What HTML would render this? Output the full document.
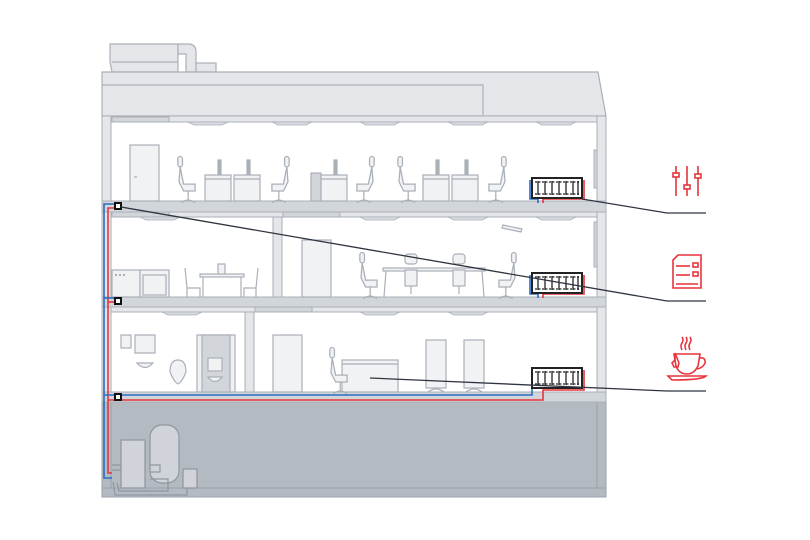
<!DOCTYPE html>
<html><head><meta charset="utf-8"><style>html,body{margin:0;padding:0;background:#fff}svg{display:block}</style></head>
<body>
<svg width="810" height="540" viewBox="0 0 810 540" xmlns="http://www.w3.org/2000/svg">
<defs>
<g id="chair0" fill="#f1f2f4" stroke="#aab0b8" stroke-width="1.1">
<rect x="-1" y="-30" width="4" height="9" rx="2"/>
<path d="M1 -21 L0 -8 L4 0 L14 0 L14 -6 L4 -6 Z"/>
<line x1="8" y1="0" x2="8" y2="8"/><path d="M2 10 Q8 6 14 10" fill="none"/>
</g>
<g id="chair"><use href="#chair0" transform="scale(1.15)"/></g>
<g id="desk" fill="#f1f2f4" stroke="#aab0b8" stroke-width="1.2">
<rect x="0" y="-25" width="26" height="26"/><line x1="0" y1="-21" x2="26" y2="-21"/>
<rect x="13" y="-40" width="3" height="14" fill="#aab0b8"/>
</g>
<g id="rad">
<rect x="0" y="0" width="50" height="20" fill="#fff" stroke="#222" stroke-width="2"/>
<g stroke="#222" stroke-width="1.3">
<line x1="6" y1="3" x2="6" y2="17"/><line x1="13" y1="3" x2="13" y2="17"/><line x1="20" y1="3" x2="20" y2="17"/><line x1="27" y1="3" x2="27" y2="17"/><line x1="34" y1="3" x2="34" y2="17"/><line x1="41" y1="3" x2="41" y2="17"/><line x1="46" y1="3" x2="46" y2="17"/>
<line x1="3" y1="4" x2="47" y2="4" stroke-dasharray="2 1.5"/><line x1="3" y1="16" x2="47" y2="16" stroke-dasharray="2 1.5"/>
</g></g>
<g id="lamp"><path d="M0 0 L40 0 L34 3 L6 3 Z" fill="#d8dbdf" stroke="#aab0b8" stroke-width="0.8"/></g>
</defs>

<g fill="#e4e6ea" stroke="#aab0b8" stroke-width="1.2">
<path d="M110 44 L178 44 L178 72 L112 72 L110 62 Z"/>
<line x1="112" y1="62" x2="178" y2="62"/>
<path d="M178 44 L188 44 Q196 44 196 52 L196 72 L186 72 L186 54 L178 54 Z"/>
<rect x="196" y="63" width="20" height="9"/>
</g>
<path d="M102 72 L598 72 L606 116 L102 116 Z" fill="#e4e6ea" stroke="#aab0b8" stroke-width="1.2"/>
<path d="M102 85 L483 85 L483 116" fill="none" stroke="#aab0b8" stroke-width="1.2"/>

<rect x="102" y="116" width="504" height="286" fill="#fff"/>
<rect x="102" y="402" width="504" height="95" fill="#b4bac1" stroke="#9aa1a9" stroke-width="1"/>
<rect x="102" y="488" width="504" height="9" fill="#b4bac1" stroke="#9aa1a9"/>
<line x1="111" y1="402" x2="111" y2="488" stroke="#9aa1a9"/><line x1="597" y1="402" x2="597" y2="488" stroke="#9aa1a9"/>

<g fill="#e4e6ea" stroke="#aab0b8" stroke-width="1">
<rect x="102" y="116" width="9" height="286"/>
<rect x="597" y="116" width="9" height="286"/>
<rect x="111" y="116" width="486" height="6"/>
<rect x="111" y="212" width="486" height="5"/>
<rect x="111" y="307" width="486" height="5"/>
<rect x="273" y="217" width="9" height="80"/>
<rect x="245" y="312" width="9" height="80"/>
</g>
<g fill="#d2d6db" stroke="#aab0b8" stroke-width="1">
<rect x="102" y="201" width="504" height="11"/>
<rect x="102" y="297" width="504" height="10"/>
<rect x="102" y="392" width="504" height="10"/>
<rect x="112" y="117" width="57" height="5"/><rect x="112" y="212" width="57" height="5"/><rect x="283" y="212" width="57" height="5"/><rect x="255" y="307" width="57" height="5"/>
<rect x="594" y="150" width="3" height="38"/><rect x="594" y="222" width="3" height="45"/>
</g>
<g><use href="#lamp" x="188" y="122"/><use href="#lamp" x="272" y="122"/><use href="#lamp" x="360" y="122"/><use href="#lamp" x="448" y="122"/><use href="#lamp" x="536" y="122"/>
<use href="#lamp" x="140" y="217"/><use href="#lamp" x="360" y="217"/><use href="#lamp" x="448" y="217"/><use href="#lamp" x="536" y="217"/>
<use href="#lamp" x="162" y="312"/><use href="#lamp" x="360" y="312"/><use href="#lamp" x="448" y="312"/></g>

<g fill="#f1f2f4" stroke="#aab0b8" stroke-width="1.2">
<rect x="130" y="145" width="29" height="56"/><line x1="134" y1="177" x2="137" y2="177"/>
<rect x="311" y="173" width="10" height="28" fill="#d2d6db"/>
</g>
<use href="#chair" x="179" y="191"/><use href="#desk" x="205" y="200"/><use href="#desk" x="234" y="200"/>
<g transform="translate(288,191) scale(-1,1)"><use href="#chair"/></g>
<use href="#desk" x="321" y="200"/>
<g transform="translate(373,191) scale(-1,1)"><use href="#chair"/></g>
<use href="#chair" x="399" y="191"/><use href="#desk" x="423" y="200"/><use href="#desk" x="452" y="200"/>
<g transform="translate(505,191) scale(-1,1)"><use href="#chair"/></g>

<g fill="#f1f2f4" stroke="#aab0b8" stroke-width="1.2">
<rect x="112" y="270" width="28" height="27"/><rect x="140" y="270" width="29" height="27"/><rect x="143" y="275" width="23" height="20"/>
<g fill="#aab0b8" stroke="none"><rect x="115" y="274" width="2" height="2"/><rect x="119" y="274" width="2" height="2"/><rect x="123" y="274" width="2" height="2"/></g>
<rect x="200" y="274" width="44" height="3"/><line x1="203" y1="277" x2="203" y2="297"/><line x1="241" y1="277" x2="241" y2="297"/>
<rect x="218" y="264" width="7" height="10"/>
<path d="M185 268 L187 288 L200 288 L200 297 M187 288 L187 297" fill="none"/>
<path d="M258 268 L256 288 L244 288 L244 297 M256 288 L256 297" fill="none"/>
<rect x="302" y="240" width="29" height="57"/>
<rect x="383" y="268" width="102" height="3"/><line x1="386" y1="271" x2="384" y2="297"/><line x1="482" y1="271" x2="484" y2="297"/>
<rect x="405" y="254" width="12" height="10" rx="3"/><rect x="453" y="254" width="12" height="10" rx="3"/>
<path d="M503 225 L522 229 L521 232 L502 228 Z"/>
</g>
<use href="#chair" x="361" y="287"/><g transform="translate(515,287) scale(-1,1)"><use href="#chair"/></g>
<g fill="#f1f2f4" stroke="#aab0b8" stroke-width="1.2"><rect x="405" y="270" width="12" height="16"/><rect x="453" y="270" width="12" height="16"/><line x1="411" y1="286" x2="411" y2="294"/><line x1="459" y1="286" x2="459" y2="294"/></g>

<g fill="#f1f2f4" stroke="#aab0b8" stroke-width="1.2">
<rect x="121" y="335" width="10" height="13"/><rect x="135" y="335" width="20" height="18"/>
<path d="M137 363 Q145 372 153 363 Z"/>
<path d="M170 372 Q170 360 178 360 Q186 360 186 372 Q182 382 178 384 Q174 382 170 372 Z"/>
<rect x="197" y="335" width="38" height="57"/><rect x="202" y="335" width="28" height="57" fill="#d2d6db"/>
<rect x="208" y="358" width="14" height="13" fill="#f1f2f4"/><path d="M208 377 Q215 386 222 377 Z"/>
<rect x="273" y="335" width="29" height="57"/>
<rect x="342" y="360" width="56" height="32"/><line x1="342" y1="364" x2="398" y2="364"/>
<rect x="426" y="340" width="20" height="48"/><rect x="464" y="340" width="20" height="48"/>
<path d="M428 392 Q436 386 444 392 M466 392 Q474 386 482 392" fill="none"/>
</g>
<use href="#chair" x="331" y="382"/>

<g fill="#d0d4da" stroke="#8f969e" stroke-width="1.2">
<rect x="121" y="440" width="24" height="48"/>
<rect x="150" y="425" width="29" height="58" rx="12"/>
<rect x="183" y="469" width="14" height="19"/>
<path d="M112 465 L121 465 M112 470 L121 470 M150 465 L160 465 L160 472 L150 472" fill="none"/>
<path d="M113 482 L115 495 L187 495 L187 488 M117 483 L119 491 L168 491 L168 479 L150 479" fill="none"/>
</g>

<g fill="none" stroke-width="1.6">
<path d="M118 204 L104 204 L104 478 L112 478" stroke="#2b6cc4"/>
<path d="M118 208 L108 208 L108 473 L112 473" stroke="#e8343c"/>
<path d="M104 298 L118 298" stroke="#2b6cc4"/><path d="M108 302 L118 302" stroke="#e8343c"/>
<path d="M104 395 L532 395 L532 369" stroke="#2b6cc4"/>
<path d="M108 400 L543 400 L543 390 L584 390 L584 370" stroke="#e8343c"/>
<path d="M530 180 L530 199 L538 199 L538 203" stroke="#2b6cc4"/><path d="M584 180 L584 199 L543 199 L543 203" stroke="#e8343c"/>
<path d="M530 275 L530 294 L538 294 L538 298" stroke="#2b6cc4"/><path d="M584 275 L584 294 L543 294 L543 298" stroke="#e8343c"/>
</g>
<use href="#rad" x="532" y="178"/><use href="#rad" x="532" y="273"/><use href="#rad" x="532" y="368"/>

<g fill="#fff" stroke="#111" stroke-width="2"><rect x="115" y="203" width="6" height="6"/><rect x="115" y="298" width="6" height="6"/><rect x="115" y="394" width="6" height="6"/></g>

<g fill="none" stroke="#2f3540" stroke-width="1.3">
<path d="M582 199 L667 213 L706 213"/>
<path d="M121 207 L667 301 L706 301"/>
<path d="M370 378 L667 391 L706 391"/>
</g>

<g fill="none" stroke="#e8343c" stroke-width="1.6">
<line x1="676" y1="166" x2="676" y2="196"/><line x1="687" y1="166" x2="687" y2="196"/><line x1="698" y1="166" x2="698" y2="196"/>
<rect x="673" y="173" width="6" height="4" fill="#fff"/><rect x="684" y="185" width="6" height="4" fill="#fff"/><rect x="695" y="174" width="6" height="4" fill="#fff"/>
<path d="M678 255 L701 255 L701 288 L673 288 L673 260 Z"/>
<line x1="676" y1="266" x2="690" y2="266"/><line x1="676" y1="275" x2="690" y2="275"/><line x1="676" y1="284" x2="698" y2="284"/>
<rect x="693" y="263" width="5" height="4"/><rect x="693" y="272" width="5" height="4"/>
<path d="M674 354 L700 354 L698 366 Q694 374 687 374 Q679 374 676 366 Z"/>
<path d="M699 358 Q706 357 705 363 Q703 368 697 369"/>
<path d="M668 376 L706 376 Q702 380 672 380 Z"/>
<path d="M682 350 Q680 346 682 343 Q684 340 682 337 M686 350 Q684 346 686 343 Q688 340 686 337 M690 350 Q688 346 690 343 Q692 340 690 337"/>
<path d="M675 353 L675 360 L672 363 L674 367 L678 367 L679 363 Z"/>
</g>
</svg>
</body></html>
